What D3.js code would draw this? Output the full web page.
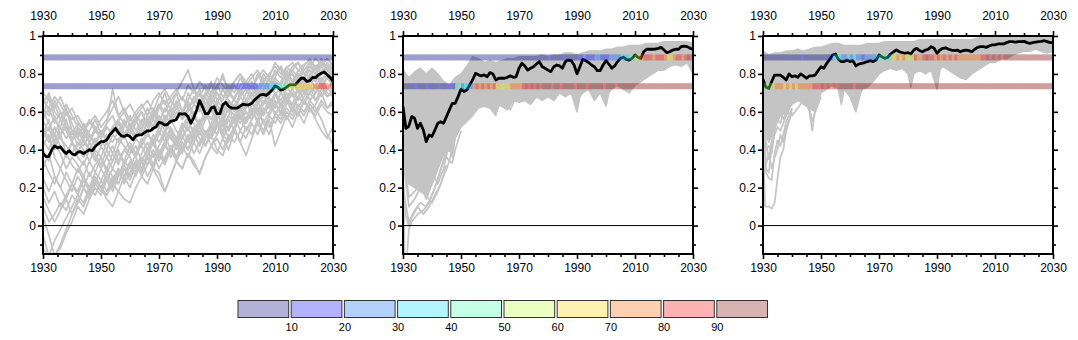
<!DOCTYPE html>
<html><head><meta charset="utf-8">
<script src="https://cdn.jsdelivr.net/npm/d3@7"></script>
<style>
body{margin:0;background:#fff}
svg text{font-family:"Liberation Sans Narrow","Liberation Sans",Arial,sans-serif}
</style>
</head><body>
<svg id="chart" width="1078" height="340"></svg>
<script>
// ---------------- DATA ----------------
const years = d3.range(1930, 2031);              // black line years
const memberYears = d3.range(1930, 2031, 2);     // panel 1 member years
const xMajorTicks = [1930, 1950, 1970, 1990, 2010, 2030];
const xTickLabels = ["1930", "1950", "1970", "1990", "2010", "2030"];
const yMajorTicks = [0, 0.2, 0.4, 0.6, 0.8, 1];
const yTickLabels = ["0", "0.2", "0.4", "0.6", "0.8", "1"];
const thresholds = [0.887, 0.735];
const legendLabels = ["10", "20", "30", "40", "50", "60", "70", "80", "90"];
const categoryColors = ["#000080", "#0000ff", "#0066ff", "#00ddff", "#40ffac",
                        "#bcff2d", "#ffd200", "#ff6600", "#ff0000", "#800000"];

// ensemble-mean (black) lines, 1930..2030
const meanP1 = [.38,.364,.364,.40,.42,.41,.415,.395,.38,.395,.378,.372,.387,.39,.38,.39,.40,.395,.417,.43,
  .443,.443,.452,.478,.496,.513,.49,.473,.47,.478,.47,.452,.473,.478,.478,.49,.50,.50,.513,.52,
  .545,.54,.53,.534,.55,.553,.56,.59,.588,.59,.575,.54,.57,.61,.66,.627,.59,.59,.62,.627,
  .59,.59,.637,.65,.63,.62,.62,.62,.63,.64,.637,.637,.645,.663,.677,.69,.692,.687,.70,.715,
  .737,.73,.715,.72,.73,.742,.742,.742,.76,.777,.777,.76,.765,.782,.78,.795,.803,.81,.795,.782,.76];
const meanP2 = [.627,.513,.525,.575,.566,.513,.54,.504,.443,.478,.47,.504,.54,.548,.54,.575,.61,.645,.645,.68,
  .72,.707,.715,.742,.768,.803,.795,.79,.795,.785,.807,.80,.768,.777,.777,.777,.782,.79,.782,.785,
  .83,.856,.842,.82,.83,.838,.852,.865,.838,.83,.82,.812,.838,.847,.842,.83,.865,.873,.87,.847,
  .80,.838,.877,.87,.86,.847,.838,.817,.817,.847,.87,.852,.83,.842,.865,.882,.888,.877,.873,.882,
  .90,.888,.882,.917,.93,.93,.93,.931,.935,.94,.926,.912,.917,.926,.93,.93,.944,.947,.944,.935,.93];
const meanP3 = [.77,.73,.724,.76,.794,.794,.794,.782,.768,.80,.785,.79,.782,.80,.79,.777,.79,.79,.794,.817,
  .838,.83,.856,.877,.90,.905,.877,.865,.865,.873,.865,.87,.842,.852,.856,.86,.865,.87,.865,.873,
  .90,.89,.882,.888,.905,.917,.926,.917,.912,.909,.912,.905,.926,.935,.923,.917,.926,.93,.944,.935,
  .909,.926,.935,.938,.93,.926,.923,.926,.917,.923,.926,.923,.917,.93,.94,.944,.944,.94,.947,.953,
  .953,.958,.958,.958,.965,.97,.97,.968,.97,.97,.972,.965,.961,.965,.968,.97,.972,.975,.97,.965,.965];

// panel 1 ensemble members, every 2 years 1930..2030
const membersP1 = [
 [.70,.66,.62,.68,.60,.56,.58,.52,.55,.50,.56,.60,.66,.58,.62,.55,.60,.64,.58,.66,.70,.64,.68,.72,.66,.74,.70,.76,.72,.68,.74,.78,.72,.76,.80,.74,.78,.82,.76,.80,.84,.80,.83,.86,.82,.85,.87,.84,.86,.88,.85],
 [.66,.62,.68,.64,.58,.62,.55,.50,.54,.58,.52,.56,.62,.68,.60,.64,.58,.62,.66,.60,.68,.72,.66,.70,.76,.82,.72,.68,.74,.70,.78,.74,.70,.76,.80,.76,.72,.78,.82,.78,.86,.82,.78,.84,.86,.82,.84,.88,.85,.83,.86],
 [.62,.58,.66,.60,.54,.50,.48,.52,.46,.50,.48,.54,.72,.58,.54,.50,.56,.60,.54,.58,.62,.70,.60,.64,.68,.62,.66,.72,.64,.70,.74,.68,.72,.66,.74,.76,.72,.68,.76,.80,.76,.74,.80,.76,.82,.80,.78,.84,.80,.86,.82],
 [.58,.68,.56,.52,.60,.54,.46,.42,.48,.44,.50,.46,.52,.48,.54,.50,.46,.52,.56,.50,.58,.54,.62,.56,.60,.64,.58,.62,.68,.60,.66,.62,.70,.66,.62,.70,.74,.68,.72,.78,.74,.70,.76,.80,.74,.78,.82,.76,.80,.84,.80],
 [.55,.50,.58,.48,.52,.46,.50,.44,.40,.46,.42,.48,.44,.50,.46,.52,.48,.54,.50,.56,.52,.58,.54,.60,.56,.62,.58,.64,.60,.66,.62,.58,.66,.62,.68,.72,.66,.70,.76,.72,.78,.74,.80,.76,.72,.78,.82,.80,.76,.82,.78],
 [.50,.44,.52,.46,.42,.38,.44,.40,.34,.40,.36,.44,.38,.46,.42,.38,.46,.42,.48,.44,.52,.48,.56,.50,.46,.54,.60,.52,.58,.64,.56,.60,.66,.62,.58,.64,.70,.64,.68,.74,.70,.66,.72,.76,.70,.74,.78,.72,.76,.80,.74],
 [.46,.52,.42,.48,.38,.44,.36,.32,.40,.36,.30,.36,.42,.34,.40,.44,.38,.46,.40,.48,.44,.50,.46,.42,.50,.56,.48,.54,.60,.52,.58,.54,.62,.58,.64,.60,.56,.64,.70,.66,.62,.70,.74,.68,.72,.76,.70,.74,.78,.72,.76],
 [.40,.34,.44,.38,.30,.36,.32,.26,.34,.28,.36,.30,.38,.32,.40,.36,.30,.38,.44,.36,.42,.48,.40,.46,.52,.44,.50,.56,.48,.54,.60,.52,.58,.54,.62,.56,.64,.60,.66,.62,.70,.64,.68,.72,.66,.70,.74,.70,.76,.72,.70],
 [.35,.28,.22,.30,.24,.18,.26,.20,.28,.22,.30,.24,.18,.26,.32,.26,.34,.28,.36,.30,.38,.32,.40,.34,.42,.36,.44,.50,.42,.48,.54,.46,.52,.58,.50,.56,.62,.54,.60,.66,.58,.64,.70,.62,.68,.72,.66,.70,.74,.68,.72],
 [.30,.38,.26,.20,.28,.22,.30,.24,.18,.24,.20,.14,.10,.18,.26,.20,.28,.34,.26,.32,.40,.34,.42,.36,.44,.40,.48,.42,.50,.46,.52,.58,.50,.56,.62,.54,.60,.66,.58,.64,.70,.62,.68,.64,.72,.66,.70,.74,.68,.72,.76],
 [.25,.18,.26,.20,.14,.22,.16,.24,.18,.26,.20,.16,.22,.18,.14,.12,.20,.26,.22,.30,.24,.18,.26,.34,.30,.38,.32,.28,.36,.42,.38,.46,.40,.50,.44,.52,.48,.56,.50,.58,.54,.60,.56,.62,.58,.66,.60,.64,.70,.62,.66],
 [.20,.12,.18,.10,.16,.22,.18,.26,.20,.28,.24,.30,.26,.22,.30,.26,.32,.28,.36,.30,.28,.18,.26,.34,.30,.38,.34,.27,.36,.42,.46,.40,.48,.44,.50,.46,.54,.48,.56,.52,.58,.54,.60,.56,.62,.58,.64,.60,.66,.62,.64],
 [-.12,-.16,-.08,-.02,.04,.10,.16,.12,.20,.16,.24,.18,.26,.22,.30,.24,.32,.28,.36,.30,.38,.34,.42,.36,.44,.40,.48,.42,.50,.46,.54,.48,.56,.50,.58,.54,.60,.56,.62,.58,.64,.60,.66,.62,.68,.64,.70,.66,.72,.68,.70],
 [.05,-.05,-.16,-.10,-.02,.06,.14,.10,.18,.24,.20,.28,.22,.30,.26,.34,.28,.36,.32,.40,.34,.42,.38,.46,.40,.48,.44,.38,.46,.52,.48,.56,.50,.58,.54,.60,.56,.62,.58,.64,.60,.56,.62,.58,.64,.60,.66,.62,.56,.48,.43],
 [-.05,-.16,-.16,-.12,-.04,.02,.10,.06,.14,.20,.16,.24,.30,.26,.34,.30,.38,.42,.36,.44,.50,.44,.52,.46,.54,.50,.58,.52,.60,.56,.64,.58,.66,.60,.68,.64,.70,.66,.72,.68,.74,.70,.76,.72,.78,.74,.80,.76,.82,.78,.80],
 [.45,.40,.48,.42,.36,.44,.38,.46,.40,.34,.42,.36,.30,.38,.34,.42,.36,.30,.38,.44,.36,.42,.48,.40,.46,.52,.44,.50,.42,.48,.40,.37,.46,.52,.44,.37,.46,.54,.48,.56,.42,.50,.58,.52,.60,.54,.62,.56,.50,.46,.52],
 [.60,.54,.48,.56,.50,.44,.52,.46,.50,.56,.48,.54,.58,.50,.56,.48,.54,.60,.52,.58,.64,.56,.62,.70,.60,.66,.58,.64,.70,.76,.66,.72,.68,.74,.70,.76,.80,.72,.78,.74,.82,.78,.84,.80,.76,.82,.86,.80,.84,.88,.84],
 [.48,.56,.44,.52,.46,.50,.42,.48,.44,.52,.46,.40,.48,.54,.46,.52,.56,.48,.54,.62,.56,.50,.58,.64,.56,.60,.68,.62,.56,.64,.70,.64,.60,.68,.72,.66,.74,.68,.64,.72,.76,.70,.78,.74,.80,.76,.72,.80,.84,.78,.74],
 [.15,.08,.02,.08,.14,.06,.12,.20,.14,.22,.18,.26,.20,.28,.24,.32,.26,.34,.40,.32,.38,.44,.36,.42,.48,.40,.46,.52,.46,.54,.48,.56,.62,.54,.60,.66,.58,.64,.70,.62,.68,.74,.66,.72,.78,.70,.76,.80,.74,.78,.82],
 [.68,.60,.64,.56,.62,.50,.46,.54,.48,.42,.50,.44,.52,.56,.48,.54,.46,.50,.58,.52,.62,.66,.56,.62,.58,.70,.64,.60,.70,.66,.72,.80,.70,.74,.68,.76,.72,.80,.74,.70,.78,.84,.76,.82,.78,.84,.88,.82,.86,.84,.80],
 [.64,.70,.60,.56,.64,.58,.52,.48,.56,.52,.46,.52,.48,.56,.60,.52,.58,.54,.62,.56,.64,.60,.66,.62,.58,.66,.72,.64,.68,.74,.70,.66,.74,.70,.78,.72,.76,.70,.80,.76,.80,.84,.78,.82,.86,.80,.84,.82,.88,.82,.84],
 [.52,.46,.40,.48,.56,.44,.40,.36,.44,.38,.32,.40,.34,.42,.48,.40,.36,.44,.50,.42,.48,.56,.50,.44,.52,.58,.54,.48,.56,.62,.54,.50,.58,.64,.56,.62,.66,.58,.64,.68,.62,.70,.66,.60,.68,.74,.66,.70,.76,.70,.68],
 [.42,.48,.36,.30,.38,.32,.28,.34,.26,.32,.36,.28,.34,.40,.32,.38,.42,.34,.40,.46,.38,.44,.50,.42,.38,.46,.52,.46,.42,.50,.56,.48,.44,.52,.58,.50,.56,.62,.54,.48,.58,.64,.56,.62,.58,.66,.62,.58,.64,.60,.58],
 [.10,.02,.06,.12,.08,.16,.12,.20,.16,.24,.20,.16,.24,.30,.22,.28,.34,.26,.32,.38,.30,.36,.42,.34,.40,.46,.38,.44,.50,.42,.48,.54,.46,.52,.58,.50,.56,.62,.54,.60,.66,.58,.64,.70,.62,.68,.74,.66,.72,.78,.74],
 [.56,.62,.54,.60,.52,.48,.54,.50,.44,.50,.46,.52,.48,.44,.52,.58,.50,.56,.52,.60,.54,.62,.58,.66,.60,.56,.64,.70,.62,.68,.64,.72,.66,.62,.70,.76,.68,.74,.70,.78,.72,.76,.82,.76,.80,.78,.84,.80,.86,.82,.78]
];

// panels 2 and 3: dense ensemble envelope [year, value] and outlying members
const envUpperP2 = [[1930,.82],[1932,.78],[1934,.81],[1936,.83],[1938,.80],[1940,.83],[1942,.80],[1944,.76],[1946,.74],[1948,.78],[1950,.80],[1952,.84],[1954,.89],[1956,.88],[1958,.86],[1960,.87],[1962,.86],[1964,.87],[1966,.88],[1968,.88],[1970,.89],[1972,.89],[1974,.89],[1976,.89],[1978,.90],[1980,.89],[1982,.90],[1984,.90],[1986,.91],[1988,.91],[1990,.90],[1992,.91],[1994,.92],[1996,.92],[1998,.92],[2000,.93],[2002,.93],[2004,.94],[2006,.94],[2008,.95],[2010,.95],[2012,.95],[2014,.96],[2016,.96],[2018,.96],[2020,.97],[2022,.97],[2024,.97],[2026,.97],[2028,.97],[2030,.96]];
const envLowerP2 = [[1930,.40],[1931,.30],[1932,.22],[1934,.20],[1936,.18],[1938,.16],[1940,.22],[1942,.30],[1944,.38],[1946,.40],[1947,.36],[1948,.46],[1950,.52],[1952,.55],[1954,.58],[1956,.62],[1958,.63],[1960,.62],[1962,.58],[1963,.64],[1965,.62],[1966,.61],[1968,.66],[1970,.65],[1972,.66],[1974,.64],[1976,.68],[1978,.66],[1980,.68],[1982,.66],[1984,.70],[1986,.68],[1988,.70],[1990,.60],[1991,.68],[1992,.70],[1994,.72],[1996,.66],[1998,.70],[2000,.63],[2001,.70],[2002,.72],[2004,.74],[2006,.72],[2008,.70],[2010,.74],[2012,.76],[2014,.78],[2016,.80],[2018,.82],[2020,.82],[2022,.84],[2024,.85],[2026,.84],[2028,.86],[2030,.80]];
const outliersP2 = [
 [[1930,.30],[1930.6,-.16],[1931.4,-.16],[1932,-.02],[1933,.02],[1935,.06],[1937,.08],[1939,.12],[1941,.20],[1943,.30],[1945,.40],[1947,.45],[1950,.55]],
 [[1930,.20],[1932,.02],[1934,.08],[1936,.12],[1938,.10],[1940,.16],[1942,.24],[1944,.34],[1946,.42],[1948,.50]],
 [[1930,.40],[1932,.15],[1934,.18],[1936,.22],[1938,.14],[1940,.22],[1942,.30],[1944,.38],[1946,.34],[1948,.48]],
 [[1930,.50],[1932,.22],[1934,.26],[1936,.18],[1938,.24],[1940,.28],[1942,.22],[1944,.30],[1946,.44],[1948,.52]],
 [[1930,.35],[1932,.10],[1934,.14],[1936,.20],[1938,.16],[1940,.12],[1942,.18],[1944,.26],[1946,.34],[1947,.33],[1948,.40],[1950,.50]],
 [[1930,.25],[1931,.05],[1932,.00],[1933,.04],[1935,.10],[1937,.06],[1939,.10],[1941,.16],[1943,.22],[1945,.32]],
 [[1960,.70],[1962,.60],[1964,.66],[1966,.64],[1967,.61],[1969,.68]]
];
const envUpperP3 = [[1930,.92],[1932,.90],[1934,.91],[1936,.91],[1938,.92],[1940,.92],[1942,.93],[1944,.92],[1946,.93],[1948,.94],[1950,.94],[1952,.95],[1954,.96],[1956,.96],[1958,.95],[1960,.95],[1962,.95],[1964,.95],[1966,.96],[1968,.96],[1970,.96],[1972,.97],[1974,.97],[1976,.97],[1978,.97],[1980,.97],[1982,.97],[1984,.98],[1986,.98],[1988,.98],[1990,.98],[1992,.98],[1994,.98],[1996,.98],[1998,.98],[2000,.98],[2002,.98],[2004,.99],[2006,.99],[2008,.99],[2010,.99],[2012,.99],[2014,.99],[2016,.99],[2018,.99],[2020,.99],[2022,.99],[2024,.99],[2026,.99],[2028,.99],[2030,.99]];
const envLowerP3 = [[1930,.60],[1931,.48],[1932,.44],[1933,.48],[1934,.52],[1936,.58],[1938,.60],[1940,.64],[1942,.66],[1944,.64],[1946,.62],[1948,.60],[1950,.70],[1952,.72],[1954,.74],[1956,.72],[1957,.64],[1958,.72],[1960,.68],[1962,.60],[1963,.66],[1964,.72],[1966,.73],[1968,.76],[1970,.80],[1972,.82],[1974,.83],[1976,.82],[1978,.83],[1980,.80],[1981,.73],[1982,.80],[1984,.82],[1986,.80],[1988,.82],[1990,.72],[1991,.82],[1992,.84],[1994,.82],[1996,.80],[1998,.78],[2000,.77],[2002,.80],[2004,.82],[2006,.84],[2008,.86],[2010,.86],[2012,.88],[2014,.88],[2016,.90],[2018,.91],[2020,.92],[2022,.92],[2024,.93],[2026,.92],[2028,.91],[2030,.92]];
const outliersP3 = [
 [[1930,.50],[1930.7,.10],[1932,.10],[1933,.09],[1934,.12],[1935,.25],[1936,.36],[1937,.40],[1938,.50],[1940,.60]],
 [[1930,.60],[1931,.28],[1932,.25],[1933,.24],[1934,.38],[1935,.45],[1936,.42],[1937,.48],[1938,.55],[1940,.62]],
 [[1930,.70],[1931,.30],[1932,.28],[1933,.42],[1934,.48],[1935,.52],[1936,.50],[1938,.58],[1940,.65]],
 [[1930,.80],[1931,.45],[1932,.35],[1933,.45],[1934,.55],[1936,.58],[1938,.62],[1940,.66]],
 [[1944,.70],[1946,.60],[1947,.50],[1948,.62],[1950,.72]],
 [[1930,.75],[1931,.40],[1932,.42],[1933,.38],[1934,.50],[1935,.56],[1936,.54],[1937,.60],[1938,.58],[1940,.66]],
 [[1930,.85],[1931,.55],[1932,.50],[1933,.56],[1934,.52],[1935,.60],[1936,.64],[1938,.60],[1939,.68]],
 [[1930,.65],[1931,.32],[1932,.38],[1933,.30],[1934,.36],[1935,.40],[1936,.48],[1937,.44],[1938,.52],[1939,.56],[1940,.62]],
 [[1936,.62],[1937,.56],[1938,.60],[1940,.58],[1942,.62],[1944,.66],[1946,.62],[1947,.55],[1948,.60],[1950,.68]],
 [[1958,.74],[1960,.70],[1961,.66],[1962,.62],[1963,.68],[1965,.74]]
];

// band categories per year 1930..2029 (0 = 0-10 %, ..., 9 = 90-100 %)
const bandP1Upper = "0000000000000000000000000000000000000000" + "000000000000000000000000000000" + "0000000000000000000000000000000";
const bandP1Lower = "0000000000000000000000000000000000000000" + "000000000000000000000000001111" + "1111" + "222" + "233" + "344" + "45" + "55666" + "666" + "778" + "8878";
const bandP2Upper = "0000000000000000000000000000000000000000" + "00000000001000010000" + "1121112211" + "1222" + "233" + "34" + "45" + "67" + "88878887667887898";
const bandP2Lower = "000010001000100110" + "34" + "2332" + "7" + "8787878" + "66566" + "7777" + "89898989998" + "9989999899989999989998999999" + "99999999999999999999";
const bandP3Upper = "000000000000010000000001" + "3432" + "23232" + "212222" + "344" + "43" + "66767656" + "877898878" + "7878787" + "7777777" + "8898989899" + "999999999999999";
const bandP3Lower = "454" + "67776767677777" + "88898989899999899999999" + "999999999999999999999999999999999999999999999999999999999999";

// ---------------- DRAWING ----------------
const svg = d3.select("#chart");
const W = 290, H = 218;
const x = d3.scaleLinear().domain([1930, 2030]).range([0, W]);
const y = d3.scaleLinear().domain([-0.15, 1]).range([H, 0]);
const lineGen = d3.line().x(d => x(d[0])).y(d => y(d[1]));

const panels = [
  {left: 43,  mean: meanP1, members: membersP1, bands: [bandP1Upper, bandP1Lower]},
  {left: 403, mean: meanP2, env: [envUpperP2, envLowerP2], outliers: outliersP2, bands: [bandP2Upper, bandP2Lower]},
  {left: 763, mean: meanP3, env: [envUpperP3, envLowerP3], outliers: outliersP3, bands: [bandP3Upper, bandP3Lower]}
];
const GRAY = "#c4c4c4";

panels.forEach((p, i) => {
  const g = svg.append("g").attr("transform", `translate(${p.left},36)`);
  g.append("clipPath").attr("id", "clip" + i).append("rect").attr("width", W).attr("height", H);
  const plot = g.append("g").attr("clip-path", `url(#clip${i})`);

  if (p.members) {
    p.members.forEach(m => {
      plot.append("path").attr("d", lineGen(m.map((v, k) => [memberYears[k], v])))
        .attr("fill", "none").attr("stroke", GRAY).attr("stroke-width", 1.7).attr("stroke-linejoin", "round");
    });
  }
  if (p.env) {
    const poly = p.env[0].concat(p.env[1].slice().reverse());
    plot.append("path").attr("d", lineGen(poly) + "Z")
      .attr("fill", GRAY).attr("stroke", GRAY).attr("stroke-width", 1.6).attr("stroke-linejoin", "round");
    p.outliers.forEach(o => {
      plot.append("path").attr("d", lineGen(o))
        .attr("fill", "none").attr("stroke", GRAY).attr("stroke-width", 1.7).attr("stroke-linejoin", "round");
    });
  }
  // zero line
  plot.append("line").attr("x1", 0).attr("x2", W).attr("y1", y(0)).attr("y2", y(0))
    .attr("stroke", "#000").attr("stroke-width", 1);

  // ensemble mean
  plot.append("path").attr("d", lineGen(p.mean.map((v, k) => [years[k], v])))
    .attr("fill", "none").attr("stroke", "#000").attr("stroke-width", 2.8).attr("stroke-linejoin", "round");

  // threshold bands
  p.bands.forEach((codes, b) => {
    const bg = plot.append("g").attr("opacity", 0.38);
    codes.split("").forEach((c, k) => {
      const yr = 1930 + k;
      bg.append("rect").attr("x", x(yr)).attr("width", x(yr + 1) - x(yr) + 0.6)
        .attr("y", y(thresholds[b]) - 3).attr("height", 6)
        .attr("fill", categoryColors[+c]);
    });
  });

  // axes
  const fs = 12;
  const minorX = d3.range(1930, 2031, 5).filter(v => !xMajorTicks.includes(v));
  const minorY = d3.range(-1, 11).map(v => v / 10).filter(v => !yMajorTicks.some(t => Math.abs(t - v) < 1e-6));
  const styleAxis = sel => { sel.select(".domain").remove(); sel.selectAll("line").attr("stroke", "#000").attr("stroke-width", 1.6);
                             sel.attr("font-size", fs).attr("font-family", null); sel.selectAll("text").attr("fill", "#000"); };

  g.append("g").call(d3.axisTop(x).tickValues(xMajorTicks).tickFormat((d, k) => xTickLabels[k]).tickSize(5).tickPadding(11)).call(styleAxis);
  g.append("g").call(d3.axisTop(x).tickValues(minorX).tickFormat("").tickSize(3)).call(styleAxis);
  g.append("g").attr("transform", `translate(0,${H})`).call(d3.axisBottom(x).tickValues(xMajorTicks).tickFormat((d, k) => xTickLabels[k]).tickSize(5).tickPadding(4)).call(styleAxis);
  g.append("g").attr("transform", `translate(0,${H})`).call(d3.axisBottom(x).tickValues(minorX).tickFormat("").tickSize(3)).call(styleAxis);
  g.append("g").call(d3.axisLeft(y).tickValues(yMajorTicks).tickFormat((d, k) => yTickLabels[k]).tickSize(5).tickPadding(2)).call(styleAxis);
  g.append("g").call(d3.axisLeft(y).tickValues(minorY).tickFormat("").tickSize(3)).call(styleAxis);
  g.append("g").attr("transform", `translate(${W},0)`).call(d3.axisRight(y).tickValues(yMajorTicks).tickFormat("").tickSize(5)).call(styleAxis);
  g.append("g").attr("transform", `translate(${W},0)`).call(d3.axisRight(y).tickValues(minorY).tickFormat("").tickSize(3)).call(styleAxis);

  g.append("rect").attr("width", W).attr("height", H).attr("fill", "none")
    .attr("stroke", "#000").attr("stroke-width", 2);
});

// ---------------- LEGEND ----------------
const lx = d3.scaleLinear().domain([0, 100]).range([237.5, 769.5]);
const lg = svg.append("g");
categoryColors.forEach((c, k) => {
  lg.append("rect").attr("x", lx(k * 10) + 0.5).attr("y", 300.5).attr("width", lx(10) - lx(0) - 2.5).attr("height", 17)
    .attr("fill", "#fff").attr("stroke", "none");
  lg.append("rect").attr("x", lx(k * 10) + 0.5).attr("y", 300.5).attr("width", lx(10) - lx(0) - 2.5).attr("height", 17)
    .attr("fill", c).attr("fill-opacity", 0.3).attr("stroke", "#333").attr("stroke-width", 1);
});
legendLabels.forEach((t, k) => {
  lg.append("text").attr("x", lx((k + 1) * 10) + 1).attr("y", 331).attr("text-anchor", "middle")
    .attr("font-size", 11).text(t);
});
</script>
</body></html>
